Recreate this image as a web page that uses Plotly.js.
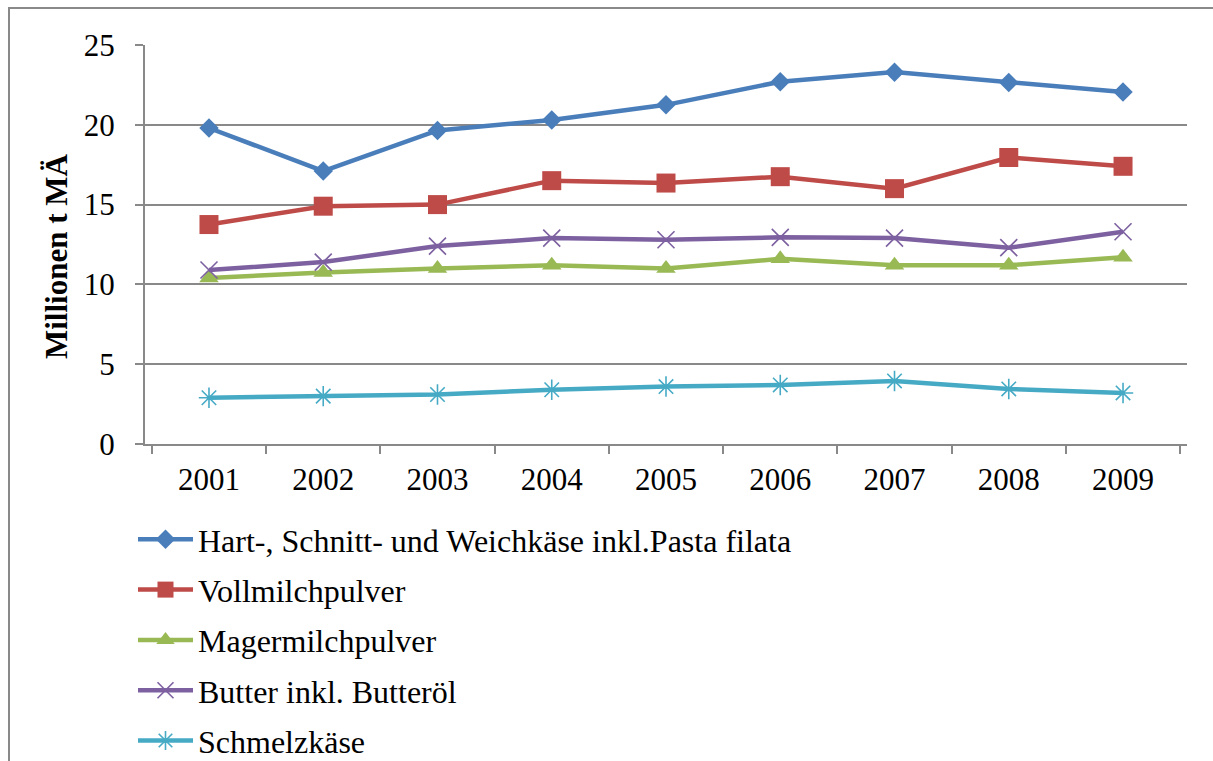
<!DOCTYPE html>
<html><head><meta charset="utf-8">
<script src="https://cdn.plot.ly/plotly-3.0.1.min.js"></script>
<style>html,body{margin:0;padding:0;background:#fff;overflow:hidden;width:1213px;height:761px;}#chart{width:1213px;height:840px;}</style>
</head><body><div id="chart"></div>
<script>
const years = ["2001","2002","2003","2004","2005","2006","2007","2008","2009"];
const seriesNames = ["Hart-, Schnitt- und Weichkäse inkl.Pasta filata","Vollmilchpulver","Magermilchpulver","Butter inkl. Butteröl","Schmelzkäse"];
const yTitle = "Millionen t MÄ";
const kaese = [19.8, 17.1, 19.65, 20.3, 21.25, 22.7, 23.3, 22.65, 22.05];
const vollmilch = [13.75, 14.9, 15.0, 16.5, 16.35, 16.75, 16.0, 17.95, 17.4];
const magermilch = [10.4, 10.75, 11.0, 11.2, 11.0, 11.6, 11.2, 11.2, 11.7];
const butter = [10.9, 11.4, 12.4, 12.9, 12.8, 12.95, 12.9, 12.3, 13.3];
const schmelz = [2.9, 3.0, 3.1, 3.4, 3.6, 3.7, 3.95, 3.45, 3.2];
const yTicks = [0, 5, 10, 15, 20, 25];

const colors = ["#4A7EBB", "#BE4B48", "#98B954", "#7D60A0", "#46AAC5"];
const symbols = ["diamond", "square", "triangle-up", "x-thin-open", "asterisk-open"];
const sizes = [15, 19, 17, 17, 17];
const data = [kaese, vollmilch, magermilch, butter, schmelz];

const traces = data.map((vals, i) => ({
  type: "scatter", mode: "lines+markers", x: years, y: vals, name: seriesNames[i],
  legendgroup: "g" + i,
  line: {color: colors[i], width: 4.5},
  marker: {symbol: symbols[i], size: sizes[i], color: colors[i], line: {color: colors[i], width: (i >= 3 ? 1.6 : 0)}}
}));

const FH = 840;
const L = 145, R = 1187, T = 45, B = 444;
const W = R - L, H = B - T;
const SERIF = "Liberation Serif";
const layout = {
  width: 1213, height: FH,
  margin: {l: L, r: 1213 - R, t: T, b: FH - B},
  paper_bgcolor: "#ffffff", plot_bgcolor: "#ffffff",
  font: {family: SERIF, color: "#000000", size: 31},
  showlegend: true,
  legend: {x: (133 - L) / W, xanchor: "left", y: 1 - (512 - T) / H, yanchor: "top",
    font: {family: SERIF, size: 32}, tracegroupgap: 5.7, traceorder: "grouped", itemwidth: 55,
    bgcolor: "rgba(0,0,0,0)"},
  xaxis: {type: "category", tickson: "boundaries", ticks: "outside", ticklen: 8, tickcolor: "#898989", tickwidth: 2,
    showline: true, linecolor: "#898989", linewidth: 2, showgrid: false, zeroline: false, automargin: false,
    tickfont: {family: SERIF, size: 31}, ticklabelstandoff: 7, fixedrange: true},
  yaxis: {range: [0, 25], tickvals: yTicks, ticktext: yTicks.map(String), ticks: "outside", ticklen: 8,
    tickcolor: "#898989", tickwidth: 2, showline: true, linecolor: "#898989", linewidth: 2, automargin: false,
    showgrid: true, gridcolor: "#898989", gridwidth: 2, zeroline: false,
    tickfont: {family: SERIF, size: 31}, ticklabelstandoff: 14},
  annotations: [{text: "<b>" + yTitle + "</b>", xref: "paper", yref: "paper",
    x: (56 - L) / W, y: 1 - (256 - T) / H, xanchor: "center", yanchor: "middle", textangle: -90,
    showarrow: false, font: {family: SERIF, size: 31, color: "#000000"}}],
  shapes: [{type: "rect", xref: "paper", yref: "paper",
    x0: (9 - L) / W, x1: (1230 - L) / W, y0: 1 - (830 - T) / H, y1: 1 + (T - 8) / H,
    line: {color: "#898989", width: 2}, fillcolor: "rgba(0,0,0,0)", layer: "below"}]
};
Plotly.newPlot("chart", traces, layout, {displayModeBar: false, staticPlot: true});
</script></body></html>
